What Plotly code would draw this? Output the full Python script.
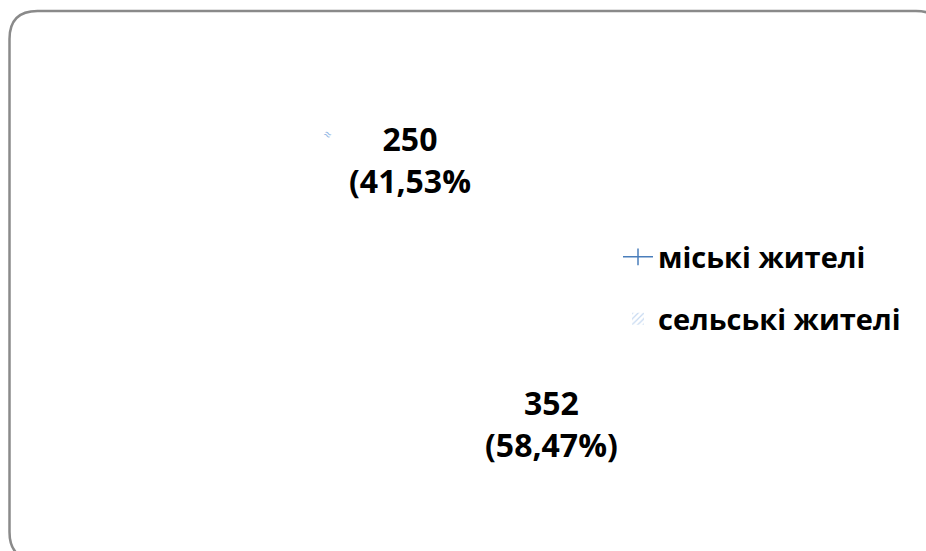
import plotly.graph_objects as go

# Respondents by place of residence
groups = ["міські жителі", "сельські жителі"]
counts = [352, 250]
# closing bracket after each percentage label
label_close = [")", ""]

W, H = 926, 551
FONT = "Open Sans"


def px(x, y):
    """pixel position -> paper coordinates"""
    return x / W, 1 - y / H


total = sum(counts)
label_text = []
for c, close in zip(counts, label_close):
    pct = f"{c / total * 100:.2f}".replace(".", ",")
    label_text.append(f"{c}<br>({pct}%{close}")

fig = go.Figure()

# pie slices drawn without fill; only their labels are visible
fig.add_trace(go.Pie(
    labels=groups, values=counts, sort=False, direction="clockwise",
    marker=dict(colors=["rgba(255,255,255,0)"] * 2, line=dict(width=0)),
    textinfo="none", hoverinfo="skip", showlegend=False,
    domain=dict(x=[0.3, 0.7], y=[0.15, 0.85]),
))

# legend entries
fig.add_trace(go.Scatter(
    x=[None], y=[None], name=groups[0], mode="lines+markers",
    line=dict(color="#4a7ebb", width=1.5),
    marker=dict(symbol="line-ns", size=12, line=dict(color="#4a7ebb", width=1.5)),
    legend="legend",
))
fig.add_trace(go.Bar(
    x=[None], y=[None], name=groups[1],
    marker=dict(color="white", line=dict(width=0),
                pattern=dict(shape="/", fgcolor="#8eb4e3", bgcolor="white", size=5, solidity=0.3)),
    legend="legend2",
))

label_pos = [(551, 423), (410, 159)]
for txt, (lx, ly) in zip(label_text, label_pos):
    ax, ay = px(lx, ly)
    fig.add_annotation(
        x=ax, y=ay, xref="paper", yref="paper", text=txt, showarrow=False,
        xanchor="center", yanchor="middle",
        font=dict(family=FONT, size=32, color="black", weight="bold"),
    )

# small pattern fragment near the upper label
fx, fy = px(327, 122)
fig.add_annotation(x=fx, y=fy, xref="paper", yref="paper", text="≈", showarrow=False,
                   textangle=30, font=dict(family=FONT, size=13, color="#8eb4e3"))

# rounded frame around the chart area
l, t, r, b, rad = 9.5, 11, 944, 560, 28
pts = [
    ("M", [(l, t + rad)]),
    ("Q", [(l, t), (l + rad, t)]),
    ("L", [(r - rad, t)]),
    ("Q", [(r, t), (r, t + rad)]),
    ("L", [(r, b - rad)]),
    ("Q", [(r, b), (r - rad, b)]),
    ("L", [(l + rad, b)]),
    ("Q", [(l, b), (l, b - rad)]),
]
path = ""
for cmd, coords in pts:
    path += cmd + " " + " ".join(f"{px(x, y)[0]:.5f},{px(x, y)[1]:.5f}" for x, y in coords) + " "
path += "Z"
fig.add_shape(type="path", path=path, xref="paper", yref="paper",
              line=dict(color="#8a8a8a", width=2.5))

lx1, ly1 = px(618, 257)
lx2, ly2 = px(618, 319)
legend_font = dict(family=FONT, size=29, color="black", weight="bold")
fig.update_layout(
    width=W, height=H,
    margin=dict(l=0, r=0, t=0, b=0),
    paper_bgcolor="white", plot_bgcolor="white",
    xaxis=dict(visible=False), yaxis=dict(visible=False),
    legend=dict(x=lx1, y=ly1, xanchor="left", yanchor="middle", font=legend_font,
                bgcolor="rgba(0,0,0,0)", itemwidth=30),
    legend2=dict(x=lx2, y=ly2, xanchor="left", yanchor="middle", font=legend_font,
                 bgcolor="rgba(0,0,0,0)", itemwidth=30),
)

fig.write_html("out.html")
